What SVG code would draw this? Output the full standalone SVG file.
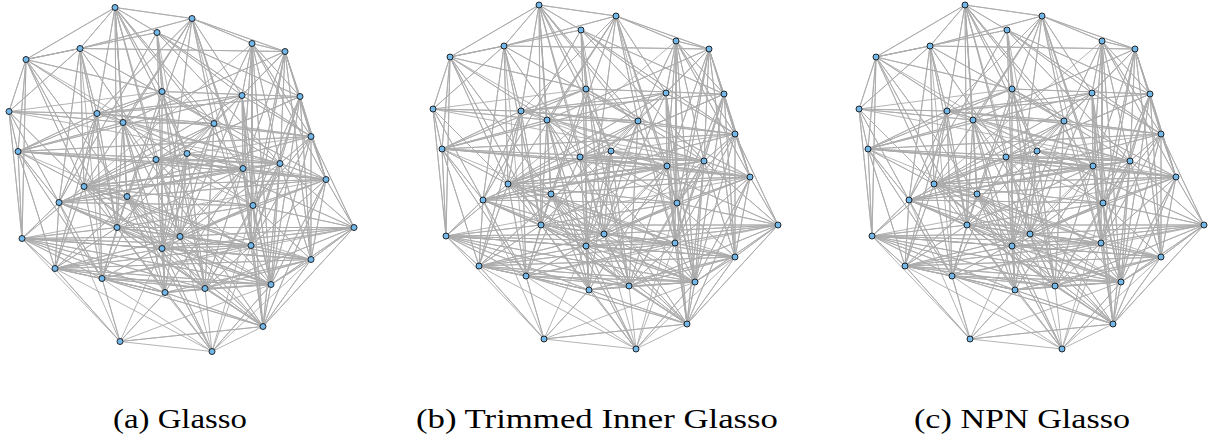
<svg xmlns="http://www.w3.org/2000/svg" xmlns:xlink="http://www.w3.org/1999/xlink" width="1214" height="440" viewBox="0 0 1214 440">
<style>
.e{fill:none;stroke:#ababab;stroke-width:0.9;stroke-linejoin:round}
.n circle{fill:#74b8ea;stroke:#111;stroke-width:0.9}
.cap{font-family:"Liberation Serif","DejaVu Serif",serif;font-size:27px;fill:#000}
</style>
<defs>
<path id="edges" class="e" d="M115 5L192 16 115 5 157 30 115 5 80 46 115 5 26 57 115 5 162 89 115 5 97 111 115 5 123 120 115 5 214 121 115 5 187 151 115 5 156 157 115 5 243 166 115 5 127 194 115 5 117 225 115 5 180 234
M192 16L80 46 192 16 252 41 192 16 285 49 192 16 242 93 192 16 97 111 192 16 123 120 192 16 214 121 192 16 243 166 192 16 84 184 192 16 253 203 192 16 117 225 192 16 162 246 192 16 251 243
M157 30L26 57 157 30 162 89 157 30 242 93 157 30 300 94 157 30 311 134 157 30 280 161 157 30 59 200 157 30 180 234 157 30 165 290 157 30 205 286
M80 46L285 49 80 46 26 57 80 46 9 109 80 46 97 111 80 46 156 157 80 46 84 184 80 46 59 200 80 46 117 225 80 46 214 121 80 46 102 276
M252 41L285 49 252 41 242 93 252 41 300 94 252 41 214 121 252 41 311 134 252 41 280 161 252 41 243 166 252 41 326 177 252 41 253 203 252 41 251 243 252 41 271 282 252 41 84 184
M285 49L300 94 285 49 311 134 285 49 280 161 285 49 326 177 285 49 253 203 285 49 251 243 285 49 311 257 285 49 214 121 285 49 243 166 285 49 123 120 285 49 242 93
M26 57L9 109 26 57 18 149 26 57 123 120 26 57 84 184 26 57 127 194 26 57 117 225 26 57 22 236 26 57 162 89 26 57 187 151
M162 89L300 94 162 89 97 111 162 89 18 149 162 89 280 161 162 89 127 194 162 89 162 246 162 89 205 286 162 89 187 151 162 89 326 177 162 89 9 109
M242 93L97 111 242 93 311 134 242 93 243 166 242 93 253 203 242 93 180 234 242 93 251 243 242 93 271 282 242 93 18 149 242 93 84 184 242 93 55 266
M300 94L97 111 300 94 311 134 300 94 280 161 300 94 326 177 300 94 253 203 300 94 251 243 300 94 311 257 300 94 271 282 300 94 156 157 300 94 59 200
M9 109L97 111 9 109 123 120 9 109 18 149 9 109 84 184 9 109 59 200 9 109 22 236 9 109 280 161
M97 111L214 121 97 111 311 134 97 111 18 149 97 111 84 184 97 111 59 200 97 111 117 225 97 111 55 266 97 111 102 276 97 111 280 161 97 111 243 166
M123 120L214 121 123 120 18 149 123 120 127 194 123 120 117 225 123 120 162 246 123 120 165 290 123 120 263 324 123 120 205 286 123 120 253 203 123 120 280 161
M214 121L311 134 214 121 187 151 214 121 156 157 214 121 84 184 214 121 180 234 214 121 162 246 214 121 251 243 214 121 205 286 214 121 55 266
M311 134L280 161 311 134 326 177 311 134 59 200 311 134 253 203 311 134 354 225 311 134 251 243 311 134 311 257 311 134 271 282 311 134 18 149 311 134 187 151
M18 149L280 161 18 149 243 166 18 149 326 177 18 149 84 184 18 149 59 200 18 149 22 236 18 149 55 266 18 149 102 276 18 149 127 194
M187 151L156 157 187 151 243 166 187 151 84 184 187 151 180 234 187 151 162 246 187 151 165 290 187 151 205 286 187 151 117 225 187 151 280 161 187 151 354 225 187 151 326 177
M156 157L280 161 156 157 243 166 156 157 326 177 156 157 84 184 156 157 59 200 156 157 180 234 156 157 102 276 156 157 165 290 156 157 271 282 156 157 253 203
M280 161L326 177 280 161 84 184 280 161 253 203 280 161 354 225 280 161 180 234 280 161 251 243 280 161 311 257 280 161 271 282 280 161 263 324 280 161 59 200 280 161 205 286
M243 166L326 177 243 166 84 184 243 166 59 200 243 166 117 225 243 166 180 234 243 166 251 243 243 166 165 290 243 166 205 286 243 166 271 282 243 166 263 324 243 166 162 246
M326 177L84 184 326 177 253 203 326 177 354 225 326 177 180 234 326 177 251 243 326 177 311 257 326 177 271 282 326 177 263 324 326 177 59 200 326 177 22 236
M84 184L127 194 84 184 253 203 84 184 117 225 84 184 180 234 84 184 22 236 84 184 162 246 84 184 55 266 84 184 102 276 84 184 251 243 84 184 205 286 84 184 311 257
M127 194L117 225 127 194 180 234 127 194 162 246 127 194 102 276 127 194 165 290 127 194 205 286 127 194 263 324 127 194 251 243 127 194 212 349 127 194 271 282
M59 200L253 203 59 200 117 225 59 200 180 234 59 200 22 236 59 200 55 266 59 200 102 276 59 200 162 246 59 200 271 282 59 200 120 339
M253 203L354 225 253 203 117 225 253 203 180 234 253 203 162 246 253 203 311 257 253 203 205 286 253 203 271 282 253 203 263 324 253 203 212 349
M354 225L117 225 354 225 180 234 354 225 162 246 354 225 251 243 354 225 311 257 354 225 271 282 354 225 263 324 354 225 205 286 354 225 102 276
M117 225L180 234 117 225 22 236 117 225 162 246 117 225 251 243 117 225 55 266 117 225 102 276 117 225 165 290 117 225 205 286 117 225 263 324 117 225 212 349 117 225 271 282
M180 234L22 236 180 234 251 243 180 234 311 257 180 234 55 266 180 234 102 276 180 234 205 286 180 234 271 282 180 234 263 324 180 234 212 349
M22 236L162 246 22 236 251 243 22 236 311 257 22 236 55 266 22 236 102 276 22 236 165 290 22 236 205 286 22 236 271 282 22 236 120 339
M162 246L251 243 162 246 311 257 162 246 55 266 162 246 165 290 162 246 271 282 162 246 263 324 162 246 212 349 162 246 120 339
M251 243L311 257 251 243 55 266 251 243 102 276 251 243 205 286 251 243 271 282 251 243 263 324 251 243 212 349
M311 257L55 266 311 257 165 290 311 257 205 286 311 257 271 282 311 257 263 324 311 257 212 349
M55 266L102 276 55 266 165 290 55 266 205 286 55 266 271 282 55 266 120 339 55 266 212 349
M102 276L165 290 102 276 205 286 102 276 271 282 102 276 263 324 102 276 120 339 102 276 212 349
M165 290L205 286 165 290 271 282 165 290 263 324 165 290 120 339 165 290 212 349
M205 286L271 282 205 286 263 324 205 286 212 349
M271 282L263 324 271 282 212 349 271 282 120 339
M263 324L120 339 263 324 212 349
M120 339L212 349"/>
</defs>
<rect width="1214" height="440" fill="#fff"/>

<g id="panel-a" transform="translate(0,2.5)">
<g id="a-connectors"><use xlink:href="#edges"/></g>
<g class="n" id="a-n1"><circle cx="115" cy="5" r="3"/></g>
<g class="n" id="a-n2"><circle cx="192" cy="16" r="3"/></g>
<g class="n" id="a-n3"><circle cx="157" cy="30" r="3"/></g>
<g class="n" id="a-n4"><circle cx="80" cy="46" r="3"/></g>
<g class="n" id="a-n5"><circle cx="252" cy="41" r="3"/></g>
<g class="n" id="a-n6"><circle cx="285" cy="49" r="3"/></g>
<g class="n" id="a-n7"><circle cx="26" cy="57" r="3"/></g>
<g class="n" id="a-n8"><circle cx="162" cy="89" r="3"/></g>
<g class="n" id="a-n9"><circle cx="242" cy="93" r="3"/></g>
<g class="n" id="a-n10"><circle cx="300" cy="94" r="3"/></g>
<g class="n" id="a-n11"><circle cx="9" cy="109" r="3"/></g>
<g class="n" id="a-n12"><circle cx="97" cy="111" r="3"/></g>
<g class="n" id="a-n13"><circle cx="123" cy="120" r="3"/></g>
<g class="n" id="a-n14"><circle cx="214" cy="121" r="3"/></g>
<g class="n" id="a-n15"><circle cx="311" cy="134" r="3"/></g>
<g class="n" id="a-n16"><circle cx="18" cy="149" r="3"/></g>
<g class="n" id="a-n17"><circle cx="187" cy="151" r="3"/></g>
<g class="n" id="a-n18"><circle cx="156" cy="157" r="3"/></g>
<g class="n" id="a-n19"><circle cx="280" cy="161" r="3"/></g>
<g class="n" id="a-n20"><circle cx="243" cy="166" r="3"/></g>
<g class="n" id="a-n21"><circle cx="326" cy="177" r="3"/></g>
<g class="n" id="a-n22"><circle cx="84" cy="184" r="3"/></g>
<g class="n" id="a-n23"><circle cx="127" cy="194" r="3"/></g>
<g class="n" id="a-n24"><circle cx="59" cy="200" r="3"/></g>
<g class="n" id="a-n25"><circle cx="253" cy="203" r="3"/></g>
<g class="n" id="a-n26"><circle cx="354" cy="225" r="3"/></g>
<g class="n" id="a-n27"><circle cx="117" cy="225" r="3"/></g>
<g class="n" id="a-n28"><circle cx="180" cy="234" r="3"/></g>
<g class="n" id="a-n29"><circle cx="22" cy="236" r="3"/></g>
<g class="n" id="a-n30"><circle cx="162" cy="246" r="3"/></g>
<g class="n" id="a-n31"><circle cx="251" cy="243" r="3"/></g>
<g class="n" id="a-n32"><circle cx="311" cy="257" r="3"/></g>
<g class="n" id="a-n33"><circle cx="55" cy="266" r="3"/></g>
<g class="n" id="a-n34"><circle cx="102" cy="276" r="3"/></g>
<g class="n" id="a-n35"><circle cx="165" cy="290" r="3"/></g>
<g class="n" id="a-n36"><circle cx="205" cy="286" r="3"/></g>
<g class="n" id="a-n37"><circle cx="271" cy="282" r="3"/></g>
<g class="n" id="a-n38"><circle cx="263" cy="324" r="3"/></g>
<g class="n" id="a-n39"><circle cx="120" cy="339" r="3"/></g>
<g class="n" id="a-n40"><circle cx="212" cy="349" r="3"/></g>
</g>

<g id="panel-b" transform="translate(424,0)">
<g id="b-connectors"><use xlink:href="#edges"/></g>
<g class="n" id="b-n1"><circle cx="115" cy="5" r="3"/></g>
<g class="n" id="b-n2"><circle cx="192" cy="16" r="3"/></g>
<g class="n" id="b-n3"><circle cx="157" cy="30" r="3"/></g>
<g class="n" id="b-n4"><circle cx="80" cy="46" r="3"/></g>
<g class="n" id="b-n5"><circle cx="252" cy="41" r="3"/></g>
<g class="n" id="b-n6"><circle cx="285" cy="49" r="3"/></g>
<g class="n" id="b-n7"><circle cx="26" cy="57" r="3"/></g>
<g class="n" id="b-n8"><circle cx="162" cy="89" r="3"/></g>
<g class="n" id="b-n9"><circle cx="242" cy="93" r="3"/></g>
<g class="n" id="b-n10"><circle cx="300" cy="94" r="3"/></g>
<g class="n" id="b-n11"><circle cx="9" cy="109" r="3"/></g>
<g class="n" id="b-n12"><circle cx="97" cy="111" r="3"/></g>
<g class="n" id="b-n13"><circle cx="123" cy="120" r="3"/></g>
<g class="n" id="b-n14"><circle cx="214" cy="121" r="3"/></g>
<g class="n" id="b-n15"><circle cx="311" cy="134" r="3"/></g>
<g class="n" id="b-n16"><circle cx="18" cy="149" r="3"/></g>
<g class="n" id="b-n17"><circle cx="187" cy="151" r="3"/></g>
<g class="n" id="b-n18"><circle cx="156" cy="157" r="3"/></g>
<g class="n" id="b-n19"><circle cx="280" cy="161" r="3"/></g>
<g class="n" id="b-n20"><circle cx="243" cy="166" r="3"/></g>
<g class="n" id="b-n21"><circle cx="326" cy="177" r="3"/></g>
<g class="n" id="b-n22"><circle cx="84" cy="184" r="3"/></g>
<g class="n" id="b-n23"><circle cx="127" cy="194" r="3"/></g>
<g class="n" id="b-n24"><circle cx="59" cy="200" r="3"/></g>
<g class="n" id="b-n25"><circle cx="253" cy="203" r="3"/></g>
<g class="n" id="b-n26"><circle cx="354" cy="225" r="3"/></g>
<g class="n" id="b-n27"><circle cx="117" cy="225" r="3"/></g>
<g class="n" id="b-n28"><circle cx="180" cy="234" r="3"/></g>
<g class="n" id="b-n29"><circle cx="22" cy="236" r="3"/></g>
<g class="n" id="b-n30"><circle cx="162" cy="246" r="3"/></g>
<g class="n" id="b-n31"><circle cx="251" cy="243" r="3"/></g>
<g class="n" id="b-n32"><circle cx="311" cy="257" r="3"/></g>
<g class="n" id="b-n33"><circle cx="55" cy="266" r="3"/></g>
<g class="n" id="b-n34"><circle cx="102" cy="276" r="3"/></g>
<g class="n" id="b-n35"><circle cx="165" cy="290" r="3"/></g>
<g class="n" id="b-n36"><circle cx="205" cy="286" r="3"/></g>
<g class="n" id="b-n37"><circle cx="271" cy="282" r="3"/></g>
<g class="n" id="b-n38"><circle cx="263" cy="324" r="3"/></g>
<g class="n" id="b-n39"><circle cx="120" cy="339" r="3"/></g>
<g class="n" id="b-n40"><circle cx="212" cy="349" r="3"/></g>
</g>

<g id="panel-c" transform="translate(850,0)">
<g id="c-connectors"><use xlink:href="#edges"/></g>
<g class="n" id="c-n1"><circle cx="115" cy="5" r="3"/></g>
<g class="n" id="c-n2"><circle cx="192" cy="16" r="3"/></g>
<g class="n" id="c-n3"><circle cx="157" cy="30" r="3"/></g>
<g class="n" id="c-n4"><circle cx="80" cy="46" r="3"/></g>
<g class="n" id="c-n5"><circle cx="252" cy="41" r="3"/></g>
<g class="n" id="c-n6"><circle cx="285" cy="49" r="3"/></g>
<g class="n" id="c-n7"><circle cx="26" cy="57" r="3"/></g>
<g class="n" id="c-n8"><circle cx="162" cy="89" r="3"/></g>
<g class="n" id="c-n9"><circle cx="242" cy="93" r="3"/></g>
<g class="n" id="c-n10"><circle cx="300" cy="94" r="3"/></g>
<g class="n" id="c-n11"><circle cx="9" cy="109" r="3"/></g>
<g class="n" id="c-n12"><circle cx="97" cy="111" r="3"/></g>
<g class="n" id="c-n13"><circle cx="123" cy="120" r="3"/></g>
<g class="n" id="c-n14"><circle cx="214" cy="121" r="3"/></g>
<g class="n" id="c-n15"><circle cx="311" cy="134" r="3"/></g>
<g class="n" id="c-n16"><circle cx="18" cy="149" r="3"/></g>
<g class="n" id="c-n17"><circle cx="187" cy="151" r="3"/></g>
<g class="n" id="c-n18"><circle cx="156" cy="157" r="3"/></g>
<g class="n" id="c-n19"><circle cx="280" cy="161" r="3"/></g>
<g class="n" id="c-n20"><circle cx="243" cy="166" r="3"/></g>
<g class="n" id="c-n21"><circle cx="326" cy="177" r="3"/></g>
<g class="n" id="c-n22"><circle cx="84" cy="184" r="3"/></g>
<g class="n" id="c-n23"><circle cx="127" cy="194" r="3"/></g>
<g class="n" id="c-n24"><circle cx="59" cy="200" r="3"/></g>
<g class="n" id="c-n25"><circle cx="253" cy="203" r="3"/></g>
<g class="n" id="c-n26"><circle cx="354" cy="225" r="3"/></g>
<g class="n" id="c-n27"><circle cx="117" cy="225" r="3"/></g>
<g class="n" id="c-n28"><circle cx="180" cy="234" r="3"/></g>
<g class="n" id="c-n29"><circle cx="22" cy="236" r="3"/></g>
<g class="n" id="c-n30"><circle cx="162" cy="246" r="3"/></g>
<g class="n" id="c-n31"><circle cx="251" cy="243" r="3"/></g>
<g class="n" id="c-n32"><circle cx="311" cy="257" r="3"/></g>
<g class="n" id="c-n33"><circle cx="55" cy="266" r="3"/></g>
<g class="n" id="c-n34"><circle cx="102" cy="276" r="3"/></g>
<g class="n" id="c-n35"><circle cx="165" cy="290" r="3"/></g>
<g class="n" id="c-n36"><circle cx="205" cy="286" r="3"/></g>
<g class="n" id="c-n37"><circle cx="271" cy="282" r="3"/></g>
<g class="n" id="c-n38"><circle cx="263" cy="324" r="3"/></g>
<g class="n" id="c-n39"><circle cx="120" cy="339" r="3"/></g>
<g class="n" id="c-n40"><circle cx="212" cy="349" r="3"/></g>
</g>

<g id="captions">
<text class="cap" x="113" y="428" textLength="134" lengthAdjust="spacingAndGlyphs">(a) Glasso</text>
<text class="cap" x="416" y="428" textLength="362" lengthAdjust="spacingAndGlyphs">(b) Trimmed Inner Glasso</text>
<text class="cap" x="914" y="428" textLength="216" lengthAdjust="spacingAndGlyphs">(c) NPN Glasso</text>
</g>
</svg>
